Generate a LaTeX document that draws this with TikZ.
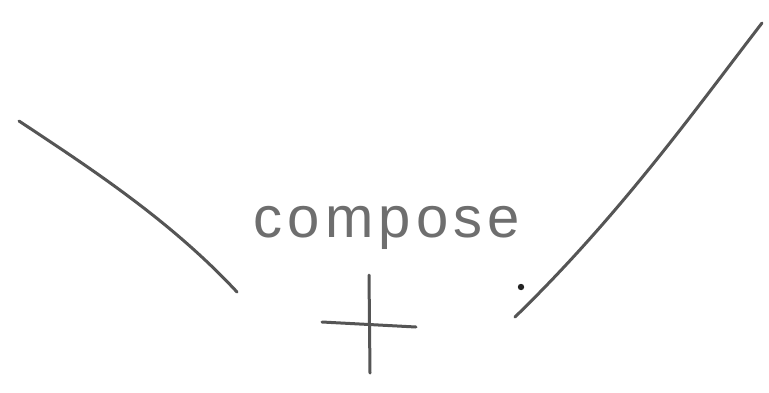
\documentclass[tikz,border=0pt]{standalone}
\usepackage{fontspec}
\newfontfamily\handfont[LetterSpace=9]{Liberation Sans}
\definecolor{ink}{RGB}{85,85,85}
\tikzset{stroke/.style={draw=ink,line width=3pt,line cap=round,line join=round}}
\begin{document}
\begin{tikzpicture}[x=1pt,y=-1pt]
\useasboundingbox[fill=white] (0,0) rectangle (769,392);
\coordinate (l1) at (19,121);
\coordinate (l2) at (237,292);
\draw[stroke] (l1) .. controls (90,168) and (170,220) .. (l2);
\coordinate (r1) at (762,23);
\coordinate (r2) at (515,317);
\draw[stroke] (r1) .. controls (695,110) and (620,215) .. (r2);
\fill[ink!40!black] (521,287) circle (3.2pt);
\node[text=ink!85,anchor=base,inner sep=0pt] (t) at (387,237) {\fontsize{58}{60}\selectfont\handfont compose};
\coordinate (v1) at (369,275);
\coordinate (v2) at (370,373);
\coordinate (h1) at (322,322);
\coordinate (h2) at (416,327);
\draw[stroke] (v1) -- (v2);
\draw[stroke] (h1) -- (h2);
\end{tikzpicture}
\end{document}
